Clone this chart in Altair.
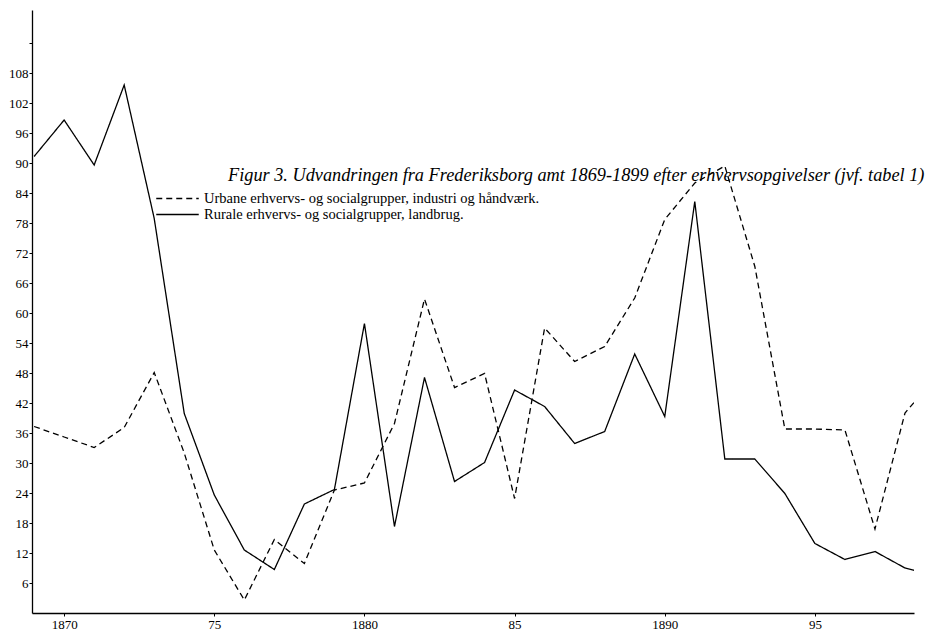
import altair as alt
import pandas as pd

# ---- data ----
years = list(range(1869, 1900))
urban = [37.3, 35.2, 33.1, 37.1, 48.1, 32.0, 12.6, 2.6, 14.7, 9.9,
         24.6, 26.0, 37.9, 62.8, 45.1, 47.9, 22.9, 57.0, 50.3, 53.3,
         63.0, 78.7, 86.0, 89.4, 69.3, 36.8, 36.8, 36.6, 16.8, 40.0, 47.0]
rural = [91.3, 98.6, 89.6, 105.6, 78.9, 39.9, 23.6, 12.6, 8.7, 21.8,
         24.7, 57.9, 17.3, 47.1, 26.3, 30.1, 44.6, 41.3, 33.9, 36.3,
         51.8, 39.3, 82.3, 30.8, 30.8, 23.9, 13.9, 10.7, 12.3, 9.0, 7.5]

urban_label = "Urbane erhvervs- og socialgrupper, industri og håndværk."
rural_label = "Rurale erhvervs- og socialgrupper, landbrug."
series_names = [urban_label, rural_label]

x_tick_values = [1870, 1875, 1880, 1885, 1890, 1895]
x_tick_labels = ["1870", "75", "1880", "85", "1890", "95"]
y_tick_values = list(range(6, 115, 6))
y_labelled_max = 108

title_text = ("Figur 3. Udvandringen fra Frederiksborg amt 1869-1899 "
              "efter erhvervsopgivelser (jvf. tabel 1)")

# ---- build table ----
df = pd.concat([
    pd.DataFrame({"year": years, "value": urban, "series": urban_label}),
    pd.DataFrame({"year": years, "value": rural, "series": rural_label}),
], ignore_index=True)

x_label_expr = "{" + ",".join(f"'{v}':'{l}'" for v, l in zip(x_tick_values, x_tick_labels)) + "}[datum.value]"
y_label_expr = f"datum.value > {y_labelled_max} ? '' : datum.label"

SERIF = "Liberation Serif"

lines = alt.Chart(df).mark_line(color="black", strokeWidth=1.3, clip=True).encode(
    x=alt.X("year:Q",
            scale=alt.Scale(domain=[1868.93, 1898.3], nice=False, zero=False),
            axis=alt.Axis(values=x_tick_values, labelExpr=x_label_expr, title=None,
                          grid=False, tickSize=3, labelPadding=2)),
    y=alt.Y("value:Q",
            scale=alt.Scale(domain=[0, 120.6], nice=False),
            axis=alt.Axis(values=y_tick_values, labelExpr=y_label_expr, title=None,
                          grid=False, tickSize=3, labelPadding=1)),
    strokeDash=alt.StrokeDash(
        "series:N",
        scale=alt.Scale(domain=series_names, range=[[6, 4], [1, 0]]),
        legend=alt.Legend(title=None, orient="none", legendX=136, legendY=179,
                          symbolType="M-2.5,0H2.5", symbolSize=289, symbolStrokeWidth=1.3,
                          symbolStrokeColor="black", symbolFillColor="transparent",
                          labelFont=SERIF, labelFontSize=14.5,
                          labelColor="black", labelOffset=17, rowPadding=0,
                          labelLimit=600),
    ),
)

title = alt.Chart(pd.DataFrame({"t": [title_text]})).mark_text(
    font=SERIF, fontSize=18.3, fontStyle="italic", align="left", baseline="middle",
    color="black",
).encode(text="t:N", x=alt.value(196), y=alt.value(166))

chart = alt.layer(lines, title).properties(
    width=882, height=603, autosize="none",
    padding={"left": 24, "top": 2, "right": 14, "bottom": 22},
).configure_view(stroke=None).configure_axis(
    domainColor="black", domainWidth=1.3, tickColor="black", tickWidth=1,
    labelFont=SERIF, labelFontSize=13, labelColor="black",
)

chart.save("out.html", embed_options={"renderer": "svg", "actions": False})
